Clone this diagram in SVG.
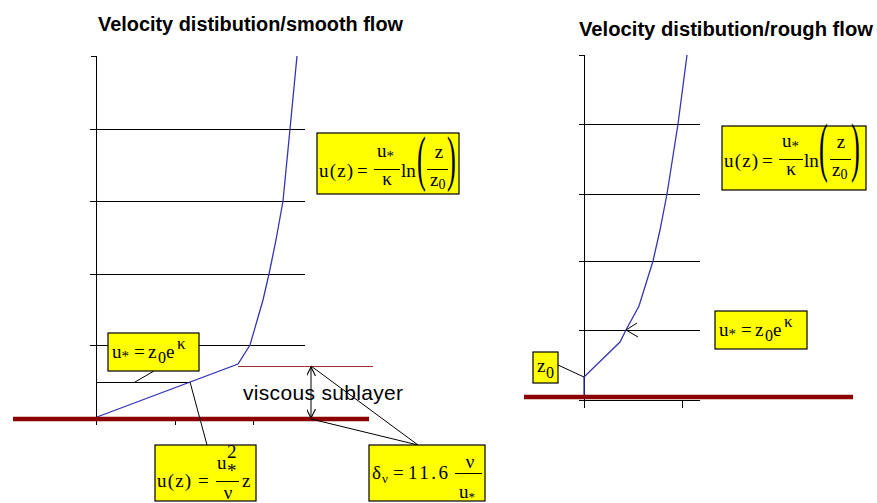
<svg xmlns="http://www.w3.org/2000/svg" width="877" height="503" viewBox="0 0 877 503">
<defs>
<style>
.title{font-family:"Liberation Sans",Arial,sans-serif;font-weight:bold;font-size:20px;fill:#000}
.lbl{font-family:"Liberation Sans",Arial,sans-serif;font-size:21px;fill:#000}
.m{font-family:"Liberation Serif","Times New Roman",serif;font-size:19px;fill:#000}
.box{fill:#ffff00;stroke:#000;stroke-width:1.2}
.grid{stroke:#000;stroke-width:1;fill:none;shape-rendering:crispEdges}
.curve{stroke:#3434b4;stroke-width:1.3;fill:none}
.ground{stroke:#8c0000;stroke-width:4.5}
.thin{stroke:#a03030;stroke-width:1;shape-rendering:crispEdges}
.conn{stroke:#000;stroke-width:1;fill:none}
.bar{stroke:#000;stroke-width:1;shape-rendering:crispEdges}
</style>
<marker id="arr" viewBox="0 0 10 10" refX="10" refY="5" markerWidth="9" markerHeight="9" markerUnits="userSpaceOnUse" orient="auto-start-reverse">
<path d="M0,0 L10,5 L0,10" fill="none" stroke="#000" stroke-width="1.2"/>
</marker>
</defs>
<rect width="877" height="503" fill="#fff"/>

<text class="title" x="98" y="31" textLength="305" lengthAdjust="spacingAndGlyphs">Velocity distibution/smooth flow</text>
<text class="title" x="579" y="36" textLength="294" lengthAdjust="spacingAndGlyphs">Velocity distibution/rough flow</text>

<g id="chart-smooth">
<path class="grid" d="M91,56 H96 V425"/>
<path class="grid" d="M90,129 H305 M90,201 H305 M90,274 H305 M90,345 H305 M96,382 H190"/>
<path class="grid" d="M96,420 H253 M175,420 V425 M253,420 V425"/>
<polyline class="curve" points="97,417 238,364 250,345 263,300 269,274 276,240 283,201 290,129 297,56"/>
<line class="thin" x1="238" y1="366" x2="373" y2="366"/>
<line class="ground" x1="13" y1="419" x2="369" y2="419"/>
</g>

<g id="chart-rough">
<path class="grid" d="M579,55 H584 V408"/>
<path class="grid" d="M579,124 H700 M579,194 H700 M579,261 H700 M579,330 H700"/>
<path class="grid" d="M579,400 H700 M682,400 V408"/>
<polyline class="curve" points="584,397 584,377 620,342 626,330 639,306 653,261 660,230 667,194 678,124 687,55"/>
<line class="ground" x1="524" y1="397" x2="853" y2="397"/>
</g>

<g id="connectors">
<line class="conn" x1="154" y1="371" x2="135" y2="382"/>
<line class="conn" x1="190" y1="382" x2="207" y2="445"/>
<line class="conn" x1="311" y1="367" x2="311" y2="418" marker-start="url(#arr)" marker-end="url(#arr)"/>
<line class="conn" x1="311" y1="366" x2="418" y2="445"/>
<line class="conn" x1="311" y1="419" x2="418" y2="445"/>
<line class="conn" x1="558" y1="365" x2="584" y2="377"/>
<polyline class="conn" points="637,323 626,330 638,337"/>
</g>

<g id="label-viscous">
<text class="lbl" x="243" y="400" textLength="160" lengthAdjust="spacing">viscous sublayer</text>
</g>

<g id="eq-log-smooth" transform="translate(317,133)">
<rect class="box" width="142" height="61"/>
<text class="m" x="2" y="44" letter-spacing="1.2">u(z)</text>
<text class="m" x="40" y="44">=</text>
<text class="m" x="60" y="24">u<tspan font-size="15" dy="4">*</tspan></text>
<line class="bar" x1="57" y1="36" x2="83" y2="36"/>
<text class="m" x="70" y="52" text-anchor="middle">κ</text>
<text class="m" x="84" y="44">ln</text>
<text class="m" transform="translate(100,46) scale(1.4,3.2)">(</text>
<text class="m" x="122" y="25" text-anchor="middle">z</text>
<line class="bar" x1="110" y1="36" x2="131" y2="36"/>
<text class="m" x="113" y="53">z<tspan font-size="14" dy="3">0</tspan></text>
<text class="m" transform="translate(130,46) scale(1.4,3.2)">)</text>
</g>

<g id="eq-log-rough" transform="translate(722,126)">
<rect class="box" width="144" height="64"/>
<g transform="translate(0,-3)">
<text class="m" x="2" y="44" letter-spacing="1.2">u(z)</text>
<text class="m" x="40" y="44">=</text>
<text class="m" x="60" y="24">u<tspan font-size="15" dy="4">*</tspan></text>
<line class="bar" x1="57" y1="36" x2="81" y2="36"/>
<text class="m" x="69" y="52" text-anchor="middle">κ</text>
<text class="m" x="82" y="44">ln</text>
<text class="m" transform="translate(97,46) scale(1.4,3.4)">(</text>
<text class="m" x="119" y="25" text-anchor="middle">z</text>
<line class="bar" x1="108" y1="36" x2="129" y2="36"/>
<text class="m" x="110" y="53">z<tspan font-size="14" dy="3">0</tspan></text>
<text class="m" transform="translate(129,46) scale(1.4,3.4)">)</text>
</g>
</g>

<g id="eq-ustar-smooth" transform="translate(108,333)">
<rect class="box" width="91" height="38"/>
<text class="m" font-size="20" x="4" y="25">u<tspan font-size="15" dy="3">*</tspan></text>
<text class="m" font-size="20" x="26" y="25">=</text>
<text class="m" font-size="20" x="40" y="25">z<tspan x="50" y="30" font-size="16">0</tspan><tspan x="58" y="25">e</tspan><tspan x="69" y="16" font-size="17">κ</tspan></text>
</g>

<g id="eq-ustar-rough" transform="translate(715,311)">
<rect class="box" width="92" height="38"/>
<text class="m" font-size="20" x="4" y="25">u<tspan font-size="15" dy="3">*</tspan></text>
<text class="m" font-size="20" x="26" y="25">=</text>
<text class="m" font-size="20" x="40" y="25">z<tspan x="50" y="30" font-size="16">0</tspan><tspan x="58" y="25">e</tspan><tspan x="69" y="16" font-size="17">κ</tspan></text>
</g>

<g id="eq-linear" transform="translate(155,445)">
<rect class="box" width="101" height="56"/>
<text class="m" x="2" y="42" letter-spacing="1.2">u(z)</text>
<text class="m" x="43" y="42">=</text>
<text class="m" x="62" y="24">u</text>
<text class="m" x="72" y="13" font-size="12">2</text>
<text class="m" x="72" y="32" font-size="13">*</text>
<line class="bar" x1="61" y1="36" x2="84" y2="36"/>
<text class="m" x="73" y="54" text-anchor="middle">ν</text>
<text class="m" x="87" y="42">z</text>
</g>

<g id="eq-delta" transform="translate(369,445)">
<rect class="box" width="116" height="56"/>
<text class="m" font-size="20" x="3" y="34">δ<tspan x="13" y="38" font-size="13">ν</tspan></text>
<text class="m" font-size="20" x="24" y="34">=</text>
<text class="m" font-size="20" x="39" y="34" letter-spacing="2.5">11.6</text>
<line class="bar" x1="86" y1="28" x2="113" y2="28"/>
<text class="m" x="101" y="23" text-anchor="middle">ν</text>
<text class="m" x="90" y="53">u<tspan font-size="13" dy="3">*</tspan></text>
</g>

<g id="eq-z0" transform="translate(533,352)">
<rect class="box" width="25" height="31"/>
<text class="m" font-size="20" x="4" y="20">z<tspan x="13" y="26" font-size="16">0</tspan></text>
</g>
</svg>
